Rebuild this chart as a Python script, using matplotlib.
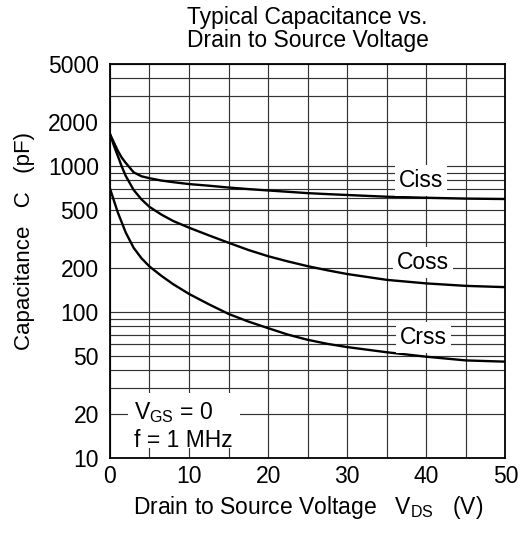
import matplotlib
matplotlib.use("Agg")
import matplotlib.pyplot as plt
from matplotlib.ticker import FixedLocator, LogLocator, MultipleLocator, NullFormatter
from matplotlib.patches import Rectangle
import numpy as np

plt.rcParams['font.family'] = ['Liberation Sans', 'DejaVu Sans']
plt.rcParams['mathtext.fontset'] = 'custom'
plt.rcParams['mathtext.rm'] = 'Liberation Sans'
plt.rcParams['mathtext.it'] = 'Liberation Sans'

# Data (VDS in V, capacitance in pF)
vds = [0, 0.5, 1, 1.5, 2, 3, 4, 5, 6.5, 8, 10, 12.5, 15, 17.5, 20, 22.5, 25,
       27.5, 30, 35, 40, 45, 50]
ciss = [1657, 1450, 1270, 1140, 1050, 905, 850, 825, 795, 775, 752, 733, 712,
        695, 680, 666, 652, 642, 633, 616, 606, 598, 594]
coss = [1657, 1380, 1170, 990, 855, 685, 590, 525, 465, 420, 378, 335, 298,
        266, 241, 222, 206, 193, 182, 166, 157, 151, 148]
crss = [703, 580, 480, 410, 350, 275, 233, 205, 177, 155, 133, 113, 97,
        86, 77.5, 70, 64.5, 60.5, 57.5, 53, 49.4, 46.6, 45.7]

y_ticks = [10, 20, 50, 100, 200, 500, 1000, 2000, 5000]
x_ticks = [0, 10, 20, 30, 40, 50]

title = "Typical Capacitance vs.\nDrain to Source Voltage"
xlabel = r"Drain to Source Voltage   V$_{\mathrm{DS}}$   (V)"
ylabel = "Capacitance   C   (pF)"

FS = 16.5

fig = plt.figure(figsize=(5.26, 5.33), dpi=100)
ax = fig.add_axes([0.209, 0.1407, 0.752, 0.7393])

ax.set_yscale('log')
ax.set_xlim(0, 50)
ax.set_ylim(10, 5000)

ax.yaxis.set_major_locator(FixedLocator(y_ticks))
ax.yaxis.set_minor_locator(LogLocator(base=10, subs=np.arange(1, 10)))
ax.yaxis.set_minor_formatter(NullFormatter())
ax.set_yticklabels([str(t) for t in y_ticks])
ax.xaxis.set_major_locator(FixedLocator(x_ticks))
ax.xaxis.set_minor_locator(MultipleLocator(5))

ax.tick_params(which='both', length=0, labelsize=FS, pad=5)
ax.tick_params(axis='y', pad=8)

ax.set_axisbelow(True)
ax.grid(which='both', color='#333333', linewidth=0.85)

for s in ax.spines.values():
    s.set_linewidth(1.3)
    s.set_color('black')

for series in (ciss, coss, crss):
    ax.plot(vds, series, color='black', linewidth=1.7, zorder=3,
            solid_joinstyle='round')

# Curve labels with white backgrounds
lab_kw = dict(fontsize=FS, ha='center', va='center', zorder=4,
              bbox=dict(facecolor='white', edgecolor='none', pad=3))
ax.text(39.3, 800, "Ciss", **lab_kw)
ax.text(39.6, 218, "Coss", **lab_kw)
ax.text(39.6, 67, "Crss", **lab_kw)

# Conditions box
ax.add_patch(Rectangle((0.0455, 0.025), 0.283, 0.14, transform=ax.transAxes,
                       facecolor='white', edgecolor='none', zorder=2))
ax.text(0.062, 0.115, r"V$_{\mathrm{GS}}$ = 0", transform=ax.transAxes,
        fontsize=FS, ha='left', va='center', zorder=4)
ax.text(0.062, 0.045, "f = 1 MHz", transform=ax.transAxes,
        fontsize=FS, ha='left', va='center', zorder=4)

ax.set_xlabel(xlabel, fontsize=FS, labelpad=4)
ax.set_ylabel(ylabel, fontsize=16)
ax.yaxis.set_label_coords(-0.19, 0.55)
ax.set_title(title, fontsize=FS, pad=12, linespacing=1.0)

fig.savefig("out.png", dpi=100)
